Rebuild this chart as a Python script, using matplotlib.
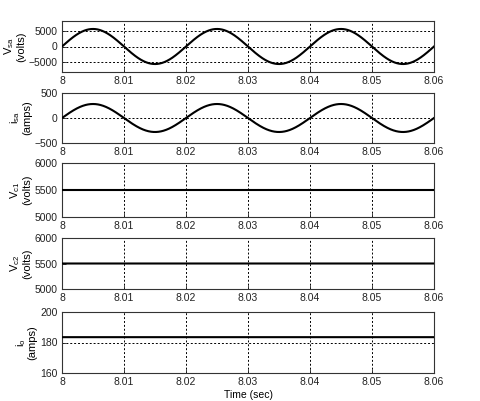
import numpy as np
import matplotlib
matplotlib.use("Agg")
import matplotlib.pyplot as plt

plt.rcParams["font.family"] = ["Liberation Sans", "DejaVu Sans"]
plt.rcParams["font.size"] = 7.5
plt.rcParams["mathtext.fontset"] = "custom"
plt.rcParams["mathtext.rm"] = "Liberation Sans"
plt.rcParams["mathtext.it"] = "Liberation Sans"
plt.rcParams["mathtext.default"] = "rm"

# data
t_start, t_end = 8.0, 8.06
freq = 50.0
vsa_peak = 5500.0
isa_peak = 280.0
vc1_level = 5500.0
vc2_level = 5500.0
io_level = 183.5

x_ticks = [8, 8.01, 8.02, 8.03, 8.04, 8.05, 8.06]
x_tick_labels = ["8", "8.01", "8.02", "8.03", "8.04", "8.05", "8.06"]

ylabels = ["V$_{sa}$\n(volts)", "i$_{sa}$\n(amps)", "V$_{c1}$\n(volts)",
           "V$_{c2}$\n(volts)", "i$_{o}$\n(amps)"]
ylims = [(-8000, 8000), (-500, 500), (5000, 6000), (5000, 6000), (160, 200)]
yticks = [[-5000, 0, 5000], [-500, 0, 500], [5000, 5500, 6000],
          [5000, 5500, 6000], [160, 180, 200]]

t = np.linspace(t_start, t_end, 1200)
signals = [
    vsa_peak * np.sin(2 * np.pi * freq * (t - t_start)),
    isa_peak * np.sin(2 * np.pi * freq * (t - t_start)),
    np.full_like(t, vc1_level),
    np.full_like(t, vc2_level),
    np.full_like(t, io_level),
]

fig = plt.figure(figsize=(4.8, 4.01), dpi=100)
W, H = 480, 401
# panel pixel boxes (top, bottom)
boxes = [(21, 72), (93, 143), (163, 217), (238, 289), (312, 373)]
left, right = 62, 434

for i, (top, bot) in enumerate(boxes):
    ax = fig.add_axes([left / W, 1 - bot / H, (right - left) / W, (bot - top) / H])
    ax.plot(t, signals[i], color="black", lw=1.5, zorder=3)
    ax.set_xlim(t_start, t_end)
    ax.set_ylim(*ylims[i])
    ax.set_xticks(x_ticks)
    ax.set_xticklabels(x_tick_labels)
    ax.set_yticks(yticks[i])
    ax.grid(True, axis="x", color="black", linestyle=(0, (2, 2)), lw=0.7)
    if i in (0, 1, 4):
        ax.grid(True, axis="y", color="black", linestyle=(0, (2, 2)), lw=0.7)
    ax.tick_params(direction="in", length=3, width=0.6, colors="#222222",
                   labelsize=7.5, pad=3)
    for s in ax.spines.values():
        s.set_color("#333333")
        s.set_linewidth(0.8)
    ax.set_ylabel(ylabels[i], fontsize=8, labelpad=2, linespacing=1.0)
    if i == 4:
        ax.set_xlabel("Time (sec)", fontsize=7.5, labelpad=2)

fig.savefig("out.png", dpi=100)
